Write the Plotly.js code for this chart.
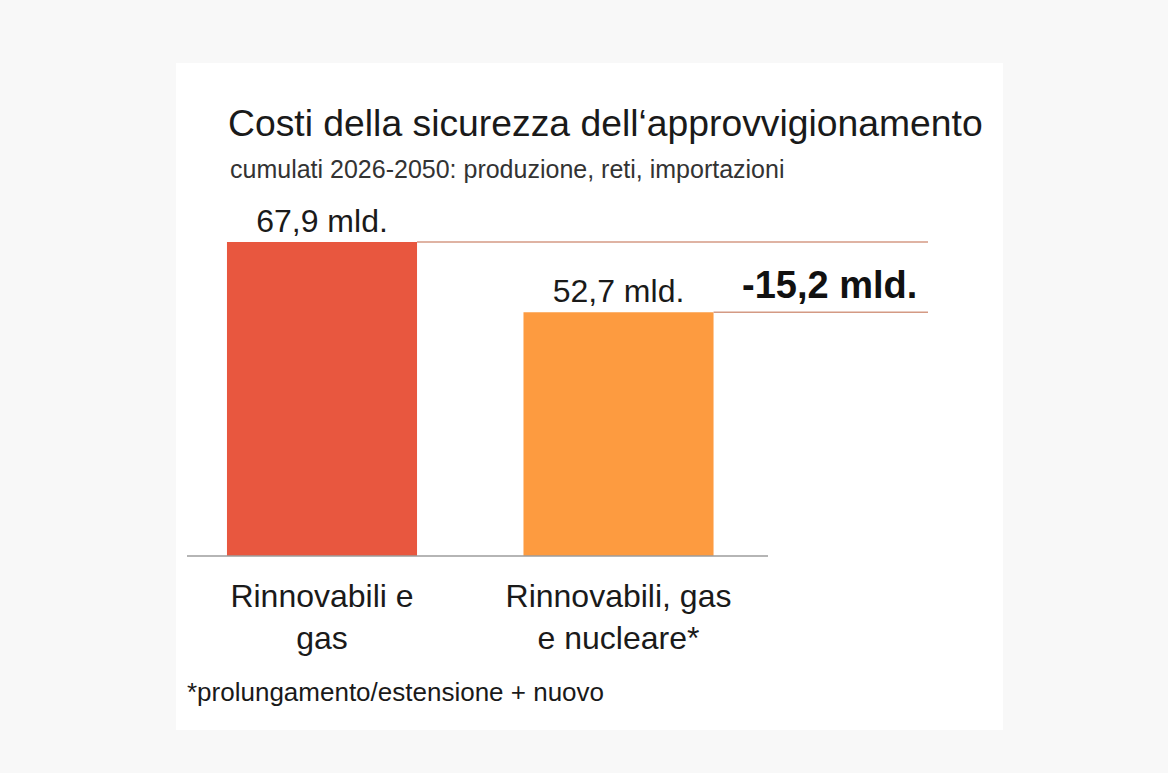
<!DOCTYPE html>
<html>
<head>
<meta charset="utf-8">
<script src="https://cdn.plot.ly/plotly-3.0.1.min.js"></script>
<style>html,body{margin:0;padding:0;background:#f8f8f8;}</style>
</head>
<body>
<div id="chart" style="width:1168px;height:773px;"></div>
<script>
// ---- data ----
const categories = ['Rinnovabili e<br>gas', 'Rinnovabili, gas<br>e nucleare*'];
const values = [67.9, 52.7];
const barColors = ['#e8573f', '#fd9b40'];
const titleText = 'Costi della sicurezza dell\u2018approvvigionamento';
const subtitleText = 'cumulati 2026-2050: produzione, reti, importazioni';
const footnoteText = '*prolungamento/estensione + nuovo';
const unitLabel = 'mld.';

// ---- layout constants (pixels) ----
const W = 1168, H = 773;
const L = 187, R = 240, T = 186, B = 217;
const plotW = W - L - R, plotH = H - T - B;
const xmin = -0.4553, xmax = 2.0438;
const ymax = 80;
const barWidth = 0.641;
const px2paperX = p => (p - L) / plotW;
const px2paperY = p => (H - B - p) / plotH;

const fmt = v => v.toFixed(1).replace('.', ',');
const diff = values[1] - values[0];
const font = 'Liberation Sans, Arial, Helvetica, sans-serif';

const trace = {
  type: 'bar',
  x: categories,
  y: values,
  width: barWidth,
  marker: {color: barColors, line: {width: 0}},
  text: values.map(v => fmt(v) + ' ' + unitLabel),
  textposition: 'outside',
  textfont: {family: font, size: 32, color: '#1a1a1a'},
  cliponaxis: false,
  hoverinfo: 'none'
};

const shapes = [
  // white panel
  {type: 'rect', xref: 'paper', yref: 'paper', layer: 'below',
   x0: px2paperX(176), x1: px2paperX(1003), y0: px2paperY(730), y1: px2paperY(63),
   fillcolor: '#ffffff', line: {width: 0}},
  // baseline
  {type: 'line', xref: 'paper', yref: 'paper',
   x0: 0, x1: px2paperX(768), y0: 0, y1: 0,
   line: {color: '#9c9c9c', width: 1.5}}
];
values.forEach((v, i) => {
  shapes.push({type: 'line', xref: 'x', yref: 'y',
    x0: i + barWidth / 2, x1: xmax, y0: v, y1: v,
    line: {color: '#d49a84', width: 1.5}});
});

const layout = {
  width: W, height: H,
  margin: {l: L, r: R, t: T, b: B, pad: 0},
  paper_bgcolor: '#f8f8f8',
  plot_bgcolor: '#ffffff',
  showlegend: false,
  font: {family: font, color: '#1a1a1a'},
  title: {
    text: titleText,
    font: {family: font, size: 37.3, color: '#1a1a1a'},
    xref: 'container', yref: 'container',
    x: 228 / W, xanchor: 'left',
    y: 1 - 123 / H, yanchor: 'middle'
  },
  xaxis: {
    type: 'category',
    range: [xmin, xmax],
    showgrid: false, zeroline: false, showline: false,
    ticks: '',
    ticklabelstandoff: 18,
    tickfont: {family: font, size: 32, color: '#1a1a1a'},
    fixedrange: true
  },
  yaxis: {
    range: [0, ymax],
    visible: false,
    fixedrange: true
  },
  shapes: shapes,
  annotations: [
    {text: subtitleText, xref: 'paper', yref: 'paper',
     x: px2paperX(228), y: px2paperY(169), xanchor: 'left', yanchor: 'middle',
     showarrow: false, font: {family: font, size: 25, color: '#333333'}},
    {text: '<b>' + (diff < 0 ? '-' : '+') + fmt(Math.abs(diff)) + ' ' + unitLabel + '</b>',
     xref: 'x', yref: 'y',
     x: 1.71, y: (values[0] + values[1]) / 2, xanchor: 'center', yanchor: 'middle',
     yshift: -8,
     showarrow: false, font: {family: font, size: 38, color: '#111111'}},
    {text: footnoteText, xref: 'paper', yref: 'paper',
     x: px2paperX(185), y: px2paperY(692), xanchor: 'left', yanchor: 'middle',
     showarrow: false, font: {family: font, size: 26, color: '#1a1a1a'}}
  ]
};

Plotly.newPlot('chart', [trace], layout, {displayModeBar: false, staticPlot: true});
</script>
</body>
</html>
